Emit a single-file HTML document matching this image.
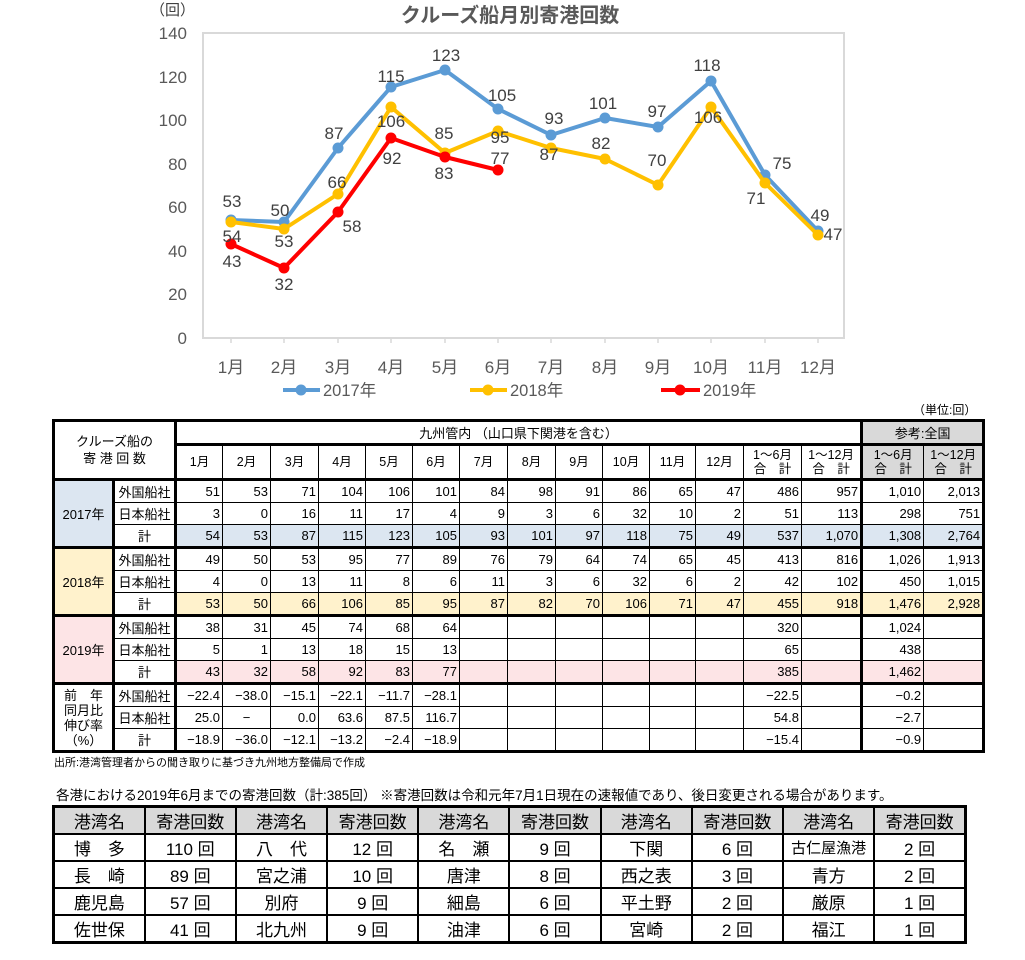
<!DOCTYPE html>
<html><head><meta charset="utf-8">
<style>
body{margin:0;background:#fff;width:1025px;height:960px;position:relative;overflow:hidden;font-family:"Liberation Sans","Noto Sans CJK JP",sans-serif;}
.abs{position:absolute;}
table{border-collapse:collapse;table-layout:fixed;}
#t1{left:52px;top:419px;width:931px;font-size:13px;}
#t1 td{border:1px solid #000;padding:0 2px;height:21px;text-align:right;white-space:nowrap;overflow:hidden;}
#t1 td.c{text-align:center;padding:0;}
#t1 .tl{border-left:3px solid #000;}
#t1 .tr{border-right:3px solid #000;}
#t1 .tt td{border-top:3px solid #000;}
#t1 .hd td{height:32px;text-align:center;padding:0;line-height:14px;font-size:12.5px;}
.b17{background:#dce6f1;} .b18{background:#fff2cc;} .b19{background:#fde4e6;} .g{background:#d9d9d9;}
#t2{left:52px;top:805px;width:915px;font-size:17px;border:3px solid #000;}
#t2 td{border:2px solid #000;height:25px;text-align:center;padding:0;white-space:nowrap;}
#t2 tr.h td{background:#d9d9d9;}
</style></head><body>
<svg class="abs" style="left:0;top:0" width="1025" height="405" font-family="Liberation Sans, Noto Sans CJK JP, sans-serif">
<text x="510" y="22" font-size="20" font-weight="bold" fill="#595959" text-anchor="middle">クルーズ船月別寄港回数</text>
<text x="150" y="15" font-size="15" fill="#404040">（回）</text>
<rect x="203" y="33" width="641" height="305" fill="none" stroke="#d9d9d9" stroke-width="2"/>
<line x1="203" y1="338" x2="844" y2="338" stroke="#d9d9d9" stroke-width="2"/>
<g stroke="#d9d9d9" stroke-width="1.5">
<line x1="231" y1="338" x2="231" y2="343"/><line x1="284" y1="338" x2="284" y2="343"/><line x1="338" y1="338" x2="338" y2="343"/><line x1="391" y1="338" x2="391" y2="343"/><line x1="445" y1="338" x2="445" y2="343"/><line x1="498" y1="338" x2="498" y2="343"/><line x1="551" y1="338" x2="551" y2="343"/><line x1="605" y1="338" x2="605" y2="343"/><line x1="658" y1="338" x2="658" y2="343"/><line x1="711" y1="338" x2="711" y2="343"/><line x1="765" y1="338" x2="765" y2="343"/><line x1="818" y1="338" x2="818" y2="343"/>
</g>
<g font-size="17" fill="#595959" text-anchor="end">
<text x="187" y="344">0</text><text x="187" y="300">20</text><text x="187" y="257">40</text><text x="187" y="213">60</text><text x="187" y="170">80</text><text x="187" y="126">100</text><text x="187" y="83">120</text><text x="187" y="39">140</text>
</g>
<g font-size="17" fill="#595959" text-anchor="middle">
<text x="231" y="373">1月</text><text x="284" y="373">2月</text><text x="338" y="373">3月</text><text x="391" y="373">4月</text><text x="445" y="373">5月</text><text x="498" y="373">6月</text><text x="551" y="373">7月</text><text x="605" y="373">8月</text><text x="658" y="373">9月</text><text x="711" y="373">10月</text><text x="765" y="373">11月</text><text x="818" y="373">12月</text>
</g>
<polyline fill="none" stroke="#5b9bd5" stroke-width="4" stroke-linejoin="round" points="231,220 284,222 338,148 391,87 445,70 498,109 551,135 605,118 658,127 711,81 765,175 818,231"/>
<g fill="#5b9bd5"><circle cx="231" cy="220" r="5.5"/><circle cx="284" cy="222" r="5.5"/><circle cx="338" cy="148" r="5.5"/><circle cx="391" cy="87" r="5.5"/><circle cx="445" cy="70" r="5.5"/><circle cx="498" cy="109" r="5.5"/><circle cx="551" cy="135" r="5.5"/><circle cx="605" cy="118" r="5.5"/><circle cx="658" cy="127" r="5.5"/><circle cx="711" cy="81" r="5.5"/><circle cx="765" cy="175" r="5.5"/><circle cx="818" cy="231" r="5.5"/></g>
<polyline fill="none" stroke="#ffc000" stroke-width="4" stroke-linejoin="round" points="231,222 284,229 338,194 391,107 445,153 498,131 551,148 605,159 658,185 711,107 765,183 818,235"/>
<g fill="#ffc000"><circle cx="231" cy="222" r="5.5"/><circle cx="284" cy="229" r="5.5"/><circle cx="338" cy="194" r="5.5"/><circle cx="391" cy="107" r="5.5"/><circle cx="445" cy="153" r="5.5"/><circle cx="498" cy="131" r="5.5"/><circle cx="551" cy="148" r="5.5"/><circle cx="605" cy="159" r="5.5"/><circle cx="658" cy="185" r="5.5"/><circle cx="711" cy="107" r="5.5"/><circle cx="765" cy="183" r="5.5"/><circle cx="818" cy="235" r="5.5"/></g>
<polyline fill="none" stroke="#ff0000" stroke-width="4" stroke-linejoin="round" points="231,244 284,268 338,212 391,138 445,157 498,170"/>
<g fill="#ff0000"><circle cx="231" cy="244" r="5.5"/><circle cx="284" cy="268" r="5.5"/><circle cx="338" cy="212" r="5.5"/><circle cx="391" cy="138" r="5.5"/><circle cx="445" cy="157" r="5.5"/><circle cx="498" cy="170" r="5.5"/></g>
<g font-size="17" fill="#404040" text-anchor="middle">
<text x="232" y="207">53</text><text x="232" y="242">54</text><text x="232" y="267">43</text>
<text x="280" y="216">50</text><text x="284" y="247">53</text><text x="284" y="290">32</text>
<text x="334" y="139">87</text><text x="337" y="188">66</text><text x="352" y="232">58</text>
<text x="391" y="82">115</text><text x="391" y="127">106</text><text x="392" y="164">92</text>
<text x="446" y="61">123</text><text x="444" y="139">85</text><text x="444" y="179">83</text>
<text x="502" y="101">105</text><text x="500" y="143">95</text><text x="500" y="164">77</text>
<text x="554" y="124">93</text><text x="549" y="160">87</text>
<text x="603" y="109">101</text><text x="601" y="149">82</text>
<text x="657" y="117">97</text><text x="657" y="166">70</text>
<text x="707" y="71">118</text><text x="708" y="123">106</text>
<text x="782" y="169">75</text><text x="756" y="204">71</text>
<text x="820" y="221">49</text><text x="833" y="240">47</text>
</g>
<g font-size="16.5" fill="#595959">
<line x1="283" y1="390" x2="320" y2="390" stroke="#5b9bd5" stroke-width="4"/><circle cx="301" cy="390" r="5.5" fill="#5b9bd5"/><text x="323" y="396">2017年</text>
<line x1="470" y1="390" x2="507" y2="390" stroke="#ffc000" stroke-width="4"/><circle cx="488" cy="390" r="5.5" fill="#ffc000"/><text x="510" y="396">2018年</text>
<line x1="661" y1="390" x2="700" y2="390" stroke="#ff0000" stroke-width="4"/><circle cx="680" cy="390" r="5.5" fill="#ff0000"/><text x="703" y="396">2019年</text>
</g>
</svg>

<div class="abs" style="left:913px;top:401px;font-size:12px;">（単位:回）</div>

<table id="t1" class="abs" style="border:3px solid #000;">
<colgroup><col style="width:60px"><col style="width:62px"><col style="width:47px"><col style="width:48px"><col style="width:48px"><col style="width:47px"><col style="width:47px"><col style="width:47px"><col style="width:48px"><col style="width:48px"><col style="width:47px"><col style="width:47px"><col style="width:46px"><col style="width:48px"><col style="width:58px"><col style="width:60px"><col style="width:62px"><col style="width:60px"></colgroup>
<tr><td class="c tr" colspan="2" rowspan="2" style="line-height:17px;font-size:13px">クルーズ船の<br>寄 港 回 数</td><td class="c" colspan="14" style="border-bottom:3px solid #000;height:20px">九州管内 （山口県下関港を含む）</td><td class="c g tl" colspan="2" style="border-bottom:3px solid #000">参考:全国</td></tr>
<tr class="hd"><td>1月</td><td>2月</td><td>3月</td><td>4月</td><td>5月</td><td>6月</td><td>7月</td><td>8月</td><td>9月</td><td>10月</td><td>11月</td><td>12月</td><td>1～6月<br>合　計</td><td>1～12月<br>合　計</td><td class="g tl">1～6月<br>合　計</td><td class="g">1～12月<br>合　計</td></tr>
<tr class="tt"><td class="c b17 tr" rowspan="3">2017年</td><td class="c tr">外国船社</td><td>51</td><td>53</td><td>71</td><td>104</td><td>106</td><td>101</td><td>84</td><td>98</td><td>91</td><td>86</td><td>65</td><td>47</td><td>486</td><td>957</td><td class="tl">1,010</td><td>2,013</td></tr>
<tr><td class="c tr">日本船社</td><td>3</td><td>0</td><td>16</td><td>11</td><td>17</td><td>4</td><td>9</td><td>3</td><td>6</td><td>32</td><td>10</td><td>2</td><td>51</td><td>113</td><td class="tl">298</td><td>751</td></tr>
<tr class="b17"><td class="c tr" style="background:#fff">計</td><td>54</td><td>53</td><td>87</td><td>115</td><td>123</td><td>105</td><td>93</td><td>101</td><td>97</td><td>118</td><td>75</td><td>49</td><td>537</td><td>1,070</td><td class="tl">1,308</td><td>2,764</td></tr>
<tr class="tt"><td class="c b18 tr" rowspan="3">2018年</td><td class="c tr">外国船社</td><td>49</td><td>50</td><td>53</td><td>95</td><td>77</td><td>89</td><td>76</td><td>79</td><td>64</td><td>74</td><td>65</td><td>45</td><td>413</td><td>816</td><td class="tl">1,026</td><td>1,913</td></tr>
<tr><td class="c tr">日本船社</td><td>4</td><td>0</td><td>13</td><td>11</td><td>8</td><td>6</td><td>11</td><td>3</td><td>6</td><td>32</td><td>6</td><td>2</td><td>42</td><td>102</td><td class="tl">450</td><td>1,015</td></tr>
<tr class="b18"><td class="c tr" style="background:#fff">計</td><td>53</td><td>50</td><td>66</td><td>106</td><td>85</td><td>95</td><td>87</td><td>82</td><td>70</td><td>106</td><td>71</td><td>47</td><td>455</td><td>918</td><td class="tl">1,476</td><td>2,928</td></tr>
<tr class="tt"><td class="c b19 tr" rowspan="3">2019年</td><td class="c tr">外国船社</td><td>38</td><td>31</td><td>45</td><td>74</td><td>68</td><td>64</td><td></td><td></td><td></td><td></td><td></td><td></td><td>320</td><td></td><td class="tl">1,024</td><td></td></tr>
<tr><td class="c tr">日本船社</td><td>5</td><td>1</td><td>13</td><td>18</td><td>15</td><td>13</td><td></td><td></td><td></td><td></td><td></td><td></td><td>65</td><td></td><td class="tl">438</td><td></td></tr>
<tr class="b19"><td class="c tr" style="background:#fff">計</td><td>43</td><td>32</td><td>58</td><td>92</td><td>83</td><td>77</td><td></td><td></td><td></td><td></td><td></td><td></td><td>385</td><td></td><td class="tl">1,462</td><td></td></tr>
<tr class="tt"><td class="c tr" rowspan="3" style="line-height:15px">前　年<br>同月比<br>伸び率<br>（%）</td><td class="c tr">外国船社</td><td>−22.4</td><td>−38.0</td><td>−15.1</td><td>−22.1</td><td>−11.7</td><td>−28.1</td><td></td><td></td><td></td><td></td><td></td><td></td><td>−22.5</td><td></td><td class="tl">−0.2</td><td></td></tr>
<tr><td class="c tr">日本船社</td><td>25.0</td><td class="c">−</td><td>0.0</td><td>63.6</td><td>87.5</td><td>116.7</td><td></td><td></td><td></td><td></td><td></td><td></td><td>54.8</td><td></td><td class="tl">−2.7</td><td></td></tr>
<tr><td class="c tr">計</td><td>−18.9</td><td>−36.0</td><td>−12.1</td><td>−13.2</td><td>−2.4</td><td>−18.9</td><td></td><td></td><td></td><td></td><td></td><td></td><td>−15.4</td><td></td><td class="tl">−0.9</td><td></td></tr>
</table>

<div class="abs" style="left:54px;top:754px;font-size:11px;">出所:港湾管理者からの聞き取りに基づき九州地方整備局で作成</div>
<div class="abs" style="left:56px;top:784px;font-size:13.5px;white-space:nowrap;">各港における2019年6月までの寄港回数（計:385回） ※寄港回数は令和元年7月1日現在の速報値であり、後日変更される場合があります。</div>

<table id="t2" class="abs">
<tr class="h"><td>港湾名</td><td>寄港回数</td><td>港湾名</td><td>寄港回数</td><td>港湾名</td><td>寄港回数</td><td>港湾名</td><td>寄港回数</td><td>港湾名</td><td>寄港回数</td></tr>
<tr><td>博　多</td><td>110 回</td><td>八　代</td><td>12 回</td><td>名　瀬</td><td>9 回</td><td>下関</td><td>6 回</td><td style="font-size:15px">古仁屋漁港</td><td>2 回</td></tr>
<tr><td>長　崎</td><td>89 回</td><td>宮之浦</td><td>10 回</td><td>唐津</td><td>8 回</td><td>西之表</td><td>3 回</td><td>青方</td><td>2 回</td></tr>
<tr><td>鹿児島</td><td>57 回</td><td>別府</td><td>9 回</td><td>細島</td><td>6 回</td><td>平土野</td><td>2 回</td><td>厳原</td><td>1 回</td></tr>
<tr><td>佐世保</td><td>41 回</td><td>北九州</td><td>9 回</td><td>油津</td><td>6 回</td><td>宮崎</td><td>2 回</td><td>福江</td><td>1 回</td></tr>
</table>
</body></html>
